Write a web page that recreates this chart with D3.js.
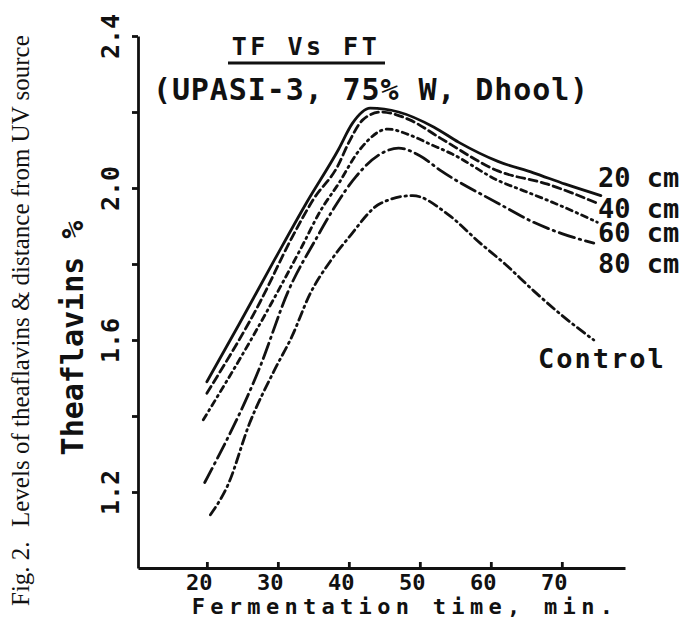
<!DOCTYPE html>
<html>
<head>
<meta charset="utf-8">
<script src="https://d3js.org/d3.v7.min.js"></script>
<style>
  body { margin: 0; background: #fff; }
  svg text { font-family: "DejaVu Sans Mono", monospace; font-weight: bold; fill: #111; }
  .caption { font-family: "Liberation Serif", serif; font-weight: normal !important; }
</style>
</head>
<body>
<div id="chart"></div>
<script>
// Values: fermentation time (min) vs theaflavins (%)
const time20 = [20, 24.5, 29.5, 34, 38.5, 40.5, 43, 47, 52, 55.5, 61, 66, 70.5, 75.5];
const tf20   = [1.49, 1.64, 1.81, 1.96, 2.10, 2.17, 2.21, 2.20, 2.16, 2.12, 2.07, 2.04, 2.01, 1.98];

const time40 = [20, 27.5, 32, 35, 38.5, 40, 42, 44.5, 48.5, 53, 61, 68, 75];
const tf40   = [1.46, 1.70, 1.87, 1.97, 2.06, 2.12, 2.18, 2.20, 2.18, 2.13, 2.045, 2.01, 1.96];

const time60 = [19.5, 26.5, 33.5, 36, 38.5, 41.5, 45.5, 48.5, 51.5, 54.5, 61, 65, 69, 75];
const tf60   = [1.39, 1.61, 1.85, 1.94, 2.01, 2.10, 2.155, 2.14, 2.115, 2.09, 2.02, 1.99, 1.96, 1.91];

const time80 = [19.7, 27.5, 31.5, 35.5, 38, 41, 44.5, 47, 50, 53, 61, 66, 70, 74.5];
const tf80   = [1.225, 1.53, 1.73, 1.87, 1.95, 2.03, 2.09, 2.105, 2.085, 2.045, 1.96, 1.91, 1.88, 1.855];

const timeCtl = [20.5, 23, 26, 29.5, 32, 34.5, 37.5, 40, 44.5, 49, 54, 58.5, 62, 66, 70, 74.5];
const tfCtl   = [1.14, 1.22, 1.38, 1.52, 1.61, 1.72, 1.81, 1.87, 1.96, 1.98, 1.93, 1.855, 1.80, 1.73, 1.665, 1.60];

const seriesNames = ["20 cm", "40 cm", "60 cm", "80 cm", "Control"];
const xTicks = [20, 30, 40, 50, 60, 70];
const yTicks = [1.2, 1.4, 1.6, 1.8, 2.0, 2.2, 2.4];
const yLabelled = [1.2, 1.6, 2.0, 2.4];

const width = 692, height = 629;

const svg = d3.select("#chart").append("svg")
  .attr("width", width)
  .attr("height", height);

const x = d3.scaleLinear().domain([10.3, 78.9]).range([138, 625]);
const y = d3.scaleLinear().domain([1.0, 2.4]).range([568, 36]);

// line style for each distance
const dashes = [null, "8,4.5", "6,4.5,1.5,4.5", "16,5,1.5,5", "9,4.5,1.5,4.5"];

const series = [
  { name: seriesNames[0], t: time20, v: tf20 },
  { name: seriesNames[1], t: time40, v: tf40 },
  { name: seriesNames[2], t: time60, v: tf60 },
  { name: seriesNames[3], t: time80, v: tf80 },
  { name: seriesNames[4], t: timeCtl, v: tfCtl }
];

const line = d3.line()
  .x(d => x(d[0]))
  .y(d => y(d[1]))
  .curve(d3.curveMonotoneX);

svg.selectAll(".series")
  .data(series)
  .enter().append("path")
  .attr("class", "series")
  .attr("d", d => line(d.t.map((t, i) => [t, d.v[i]])))
  .attr("fill", "none")
  .attr("stroke", "#111")
  .attr("stroke-width", 2.8)
  .attr("stroke-linecap", "round")
  .attr("stroke-dasharray", (d, i) => dashes[i]);

// axes
const yAxis = svg.append("g")
  .attr("transform", "translate(138,0)")
  .call(d3.axisLeft(y)
    .tickValues(yTicks)
    .tickSizeInner(6)
    .tickSizeOuter(0)
    .tickFormat(d => yLabelled.includes(d) ? d3.format(".1f")(d) : ""));

yAxis.selectAll("text")
  .attr("transform", "rotate(-90)")
  .attr("x", 0)
  .attr("y", -19)
  .attr("dy", 0)
  .style("text-anchor", "middle")
  .style("font-size", "25px");

const xAxis = svg.append("g")
  .attr("transform", "translate(0,568)")
  .call(d3.axisBottom(x)
    .tickValues(xTicks)
    .tickSizeInner(-6)
    .tickSizeOuter(0)
    .tickPadding(6));

xAxis.selectAll("text")
  .attr("dx", -8)
  .style("font-size", "22px");

svg.selectAll(".domain, .tick line")
  .attr("stroke", "#111")
  .attr("stroke-width", 2.8);

// axis titles
svg.append("text")
  .attr("transform", "translate(83,338) rotate(-90)")
  .style("text-anchor", "middle")
  .style("font-size", "30px")
  .text("Theaflavins %");

svg.append("text")
  .attr("x", 405)
  .attr("y", 614)
  .style("text-anchor", "middle")
  .style("font-size", "22px")
  .style("letter-spacing", "5.3px")
  .text("Fermentation time, min.");

// title
svg.append("text")
  .attr("x", 306)
  .attr("y", 55)
  .style("text-anchor", "middle")
  .style("font-size", "25px")
  .style("letter-spacing", "3.5px")
  .text("TF Vs FT");

svg.append("line")
  .attr("x1", 228).attr("x2", 385)
  .attr("y1", 63).attr("y2", 63)
  .attr("stroke", "#111")
  .attr("stroke-width", 2.8);

svg.append("text")
  .attr("x", 371)
  .attr("y", 100)
  .style("text-anchor", "middle")
  .style("font-size", "30px")
  .style("letter-spacing", "0.9px")
  .text("(UPASI-3, 75% W, Dhool)");

// series labels
const labelPos = [[598, 187], [598, 218], [598, 242], [598, 273], [538, 368]];
svg.selectAll(".lab")
  .data(seriesNames)
  .enter().append("text")
  .attr("class", "lab")
  .attr("x", (d, i) => labelPos[i][0])
  .attr("y", (d, i) => labelPos[i][1])
  .style("font-size", "27px")
  .style("letter-spacing", (d, i) => i === 4 ? "2px" : "0px")
  .text(d => d);

// figure caption
svg.append("text")
  .attr("class", "caption")
  .attr("transform", "translate(29,606) rotate(-90)")
  .style("font-size", "25px")
  .style("font-weight", "normal")
  .text("Fig. 2.");

svg.append("text")
  .attr("class", "caption")
  .attr("transform", "translate(29,527) rotate(-90)")
  .style("font-size", "25px")
  .style("font-weight", "normal")
  .text("Levels of theaflavins & distance from UV source");
</script>
</body>
</html>
